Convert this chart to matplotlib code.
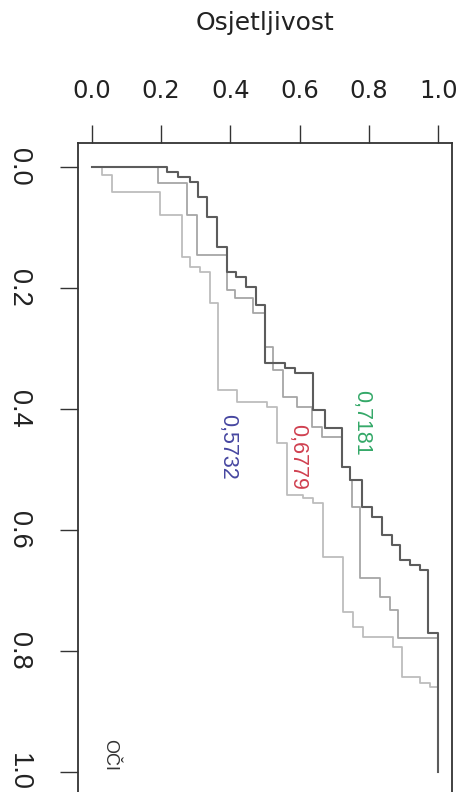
import matplotlib
matplotlib.use("Agg")
import matplotlib.pyplot as plt

# ROC step curves (x = Osjetljivost, y drawn downward), step corner points
light_x = [0.000, 0.029, 0.058, 0.197, 0.260, 0.283, 0.312, 0.341, 0.364, 0.419, 0.506, 0.535,
           0.564, 0.610, 0.639, 0.668, 0.725, 0.754, 0.783, 0.870, 0.896, 0.948, 0.977, 1.000]
light_y = [0.000, 0.013, 0.041, 0.079, 0.149, 0.165, 0.174, 0.225, 0.369, 0.388, 0.397, 0.456,
           0.542, 0.547, 0.555, 0.645, 0.736, 0.760, 0.777, 0.793, 0.843, 0.853, 0.860, 1.000]

medium_x = [0.000, 0.191, 0.275, 0.303, 0.390, 0.413, 0.465, 0.500, 0.523, 0.552, 0.592, 0.636,
            0.665, 0.723, 0.746, 0.751, 0.775, 0.832, 0.861, 0.884, 1.000]
medium_y = [0.000, 0.026, 0.079, 0.145, 0.203, 0.217, 0.241, 0.298, 0.336, 0.380, 0.397, 0.430,
            0.446, 0.496, 0.517, 0.562, 0.679, 0.711, 0.732, 0.779, 1.000]

dark_x = [0.000, 0.217, 0.249, 0.283, 0.306, 0.332, 0.361, 0.390, 0.416, 0.445, 0.474, 0.500,
          0.558, 0.587, 0.639, 0.673, 0.723, 0.746, 0.780, 0.809, 0.838, 0.867, 0.890, 0.919,
          0.948, 0.971, 1.000]
dark_y = [0.000, 0.008, 0.017, 0.025, 0.050, 0.083, 0.132, 0.174, 0.182, 0.198, 0.228, 0.324,
          0.332, 0.340, 0.402, 0.431, 0.496, 0.517, 0.562, 0.579, 0.608, 0.625, 0.650, 0.658,
          0.666, 0.770, 1.000]

auc_labels = ["0,5732", "0,6779", "0,7181"]
auc_x = [0.393, 0.595, 0.780]
auc_y = [0.463, 0.479, 0.423]
auc_colors = ["#4646a0", "#d04050", "#34a868"]

ticks = [0.0, 0.2, 0.4, 0.6, 0.8, 1.0]
tick_labels = ["0.0", "0.2", "0.4", "0.6", "0.8", "1.0"]

fig = plt.figure(figsize=(4.64, 7.92), dpi=100)
ax = fig.add_axes([78/464, (792-796)/792, (452-78)/464, (796-143)/792])

ax.step(light_x, light_y, where="post", color="#bdbdbd", lw=1.3)
ax.step(medium_x, medium_y, where="post", color="#a6a6a6", lw=1.3)
ax.step(dark_x, dark_y, where="post", color="#5c5c5c", lw=1.5)

for t, x, y, c in zip(auc_labels, auc_x, auc_y, auc_colors):
    ax.text(x, y, t, color=c, rotation=-90, ha="center", va="center",
            fontsize=15.5, family="Liberation Sans")

ax.text(0.052, 0.972, "OČI", color="#333333", rotation=-90, ha="center", va="center",
        fontsize=13, family="Liberation Sans")

ax.set_xlim(-0.04, 1.04)
ax.set_ylim(1.04, -0.04)

ax.xaxis.tick_top()
ax.set_xticks(ticks)
ax.set_xticklabels(tick_labels, family="DejaVu Sans", fontsize=17.5, color="#222222")
ax.tick_params(axis="x", length=13, width=1.0, pad=16, color="#333333")

ax.set_yticks(ticks)
ax.set_yticklabels(tick_labels, rotation=-90, va="center", family="Liberation Sans",
                   fontsize=19.5, color="#222222")
ax.tick_params(axis="y", length=13, width=1.0, pad=20, color="#333333")

for s in ax.spines.values():
    s.set_linewidth(1.3)
    s.set_color("#333333")

fig.text(265/464, 1 - 23/792, "Osjetljivost", ha="center", va="center",
         fontsize=18, family="DejaVu Sans", color="#222222")

fig.savefig("out.png", dpi=100)
